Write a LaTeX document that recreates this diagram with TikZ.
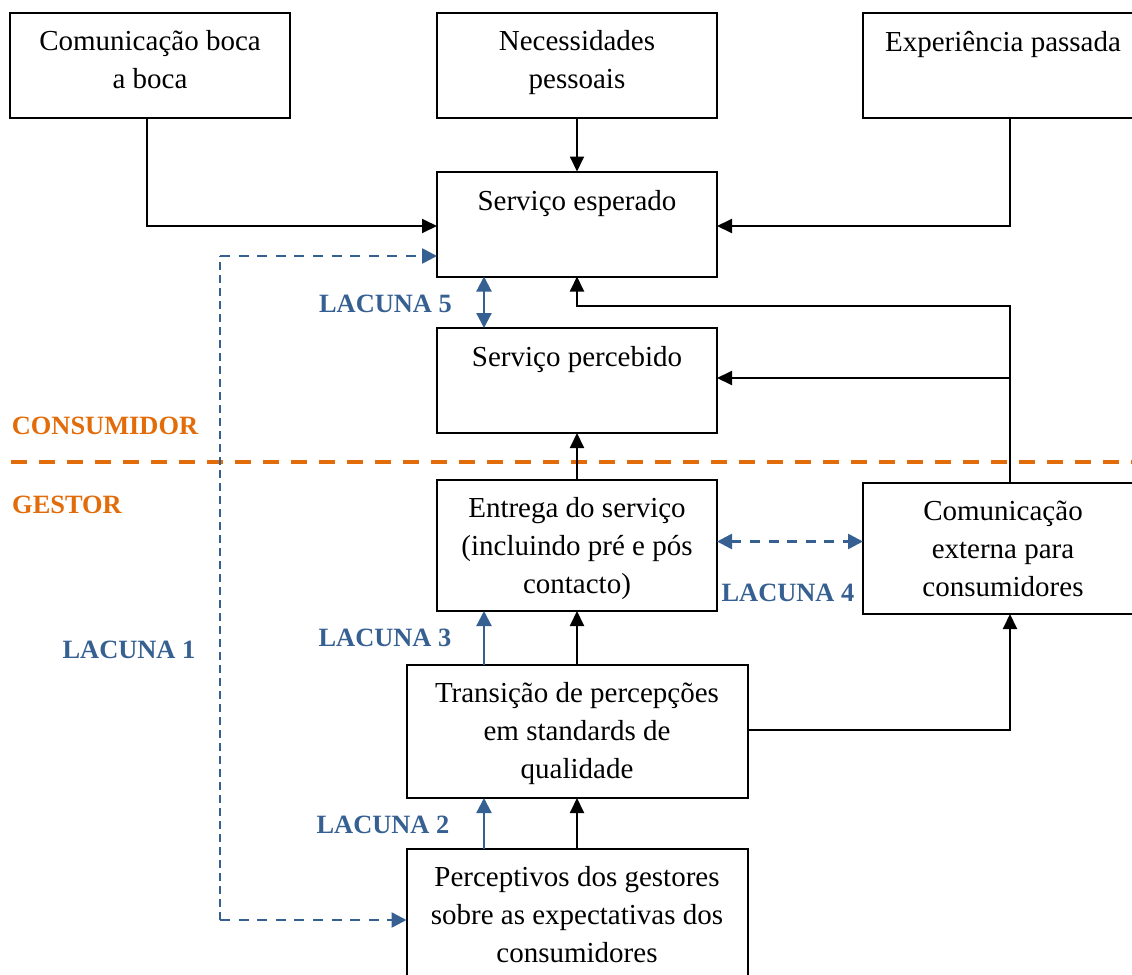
\documentclass[tikz,border=0pt]{standalone}
\usepackage{fontspec}
\setmainfont{Liberation Serif}
\usetikzlibrary{arrows.meta}
\definecolor{lblue}{RGB}{55,96,146}
\definecolor{lorange}{RGB}{227,108,10}
\begin{document}
\begin{tikzpicture}[x=0.5pt,y=-0.5pt,
  box/.style={draw, line width=1pt, minimum width=140pt, minimum height=52.5pt, inner sep=0pt, outer sep=0pt},
  txt/.style={anchor=north, align=center, inner sep=0pt, font=\fontsize{14.5}{19}\selectfont},
  lab/.style={anchor=base, inner sep=0pt, font=\fontsize{13.2}{15}\selectfont\bfseries},
  arr/.style={line width=1pt, -{Triangle[length=7.5pt,width=7pt]}},
  barr/.style={line width=1.1pt, lblue, -{Triangle[length=7.5pt,width=7.5pt]}},
  bdash/.style={barr, line width=1.3pt, dash pattern=on 5pt off 4.3pt},
  bvdash/.style={lblue, line width=1pt, dash pattern=on 4pt off 2.5pt}]
\useasboundingbox (0,0) rectangle (1132,975);

% boxes
\node[box] (A) at (150,65.5) {};
\node[box] (B) at (577,65.5) {};
\node[box] (C) at (1003,65.5) {};
\node[box] (SE) at (577,224) {};
\node[box] (SP) at (577,380.5) {};
\node[box, minimum height=65.5pt] (EN) at (577,545.5) {};
\node[box, minimum height=65.5pt] (CE) at (1003,548.5) {};
\node[box, minimum width=170.5pt, minimum height=66.5pt] (TR) at (577,731.5) {};
\node[box, minimum width=170.5pt, minimum height=66.5pt] (PG) at (577,915.5) {};

% box texts
\node[txt] (tA) at ([yshift=-5.2pt]A.north) {\strut Comunicação boca\\a boca};
\node[txt] (tB) at ([yshift=-5.2pt]B.north) {\strut Necessidades\\pessoais};
\node[txt] (tC) at ([yshift=-5.7pt]C.north) {\strut Experiência passada};
\node[txt] (tSE) at ([yshift=-6.2pt]SE.north) {\strut Serviço esperado};
\node[txt] (tSP) at ([yshift=-5.7pt]SP.north) {\strut Serviço percebido};
\node[txt] (tEN) at ([yshift=-5.2pt]EN.north) {\strut Entrega do serviço\\(incluindo pré e pós\\contacto)};
\node[txt] (tCE) at ([yshift=-5.2pt]CE.north) {\strut Comunicação\\externa para\\consumidores};
\node[txt] (tTR) at ([yshift=-5.2pt]TR.north) {\strut Transição de percepções\\em standards de\\qualidade};
\node[txt] (tPG) at ([yshift=-5.2pt]PG.north) {\strut Perceptivos dos gestores\\sobre as expectativas dos\\consumidores};

% labels
\node[lab, lblue] (L5) at (385.5,312) {LACUNA 5};
\node[lab, lblue] (L4) at (788,601) {LACUNA 4};
\node[lab, lblue] (L3) at (385,646) {LACUNA 3};
\node[lab, lblue] (L1) at (129,658) {LACUNA 1};
\node[lab, lblue] (L2) at (383,833) {LACUNA 2};
\node[lab, lorange] (LC) at (105,434) {CONSUMIDOR};
\node[lab, lorange] (LG) at (67,513) {GESTOR};

% helper coordinates
\coordinate (cx) at (1010,0);
\coordinate (ax) at (147,0);
\coordinate (bx) at (484,0);
\coordinate (loop) at (1010,306);
\coordinate (l1) at (220,920);
\coordinate (l1top) at (220,256);
\coordinate (ol) at (11,462);
\coordinate (or) at (1132,462);

% orange divider
\draw[lorange, line width=2pt, dash pattern=on 8pt off 6pt] (ol) -- (or);

% black connectors
\draw[arr] (A.south -| ax) |- ([yshift=-1pt]SE.west);
\draw[arr] (B.south) -- (SE.north);
\draw[arr] (C.south -| cx) |- ([yshift=-1pt]SE.east);
\draw[arr] (CE.north -| cx) -- (loop) -| (SE.south);
\draw[arr] (CE.north -| cx) |- ([yshift=1.25pt]SP.east);
\draw[arr] (EN.north) -- (SP.south);
\draw[arr] (TR.north) -- (EN.south);
\draw[arr] (PG.north) -- (TR.south);
\draw[arr] ([yshift=0.75pt]TR.east) -| (CE.south -| cx);

% blue connectors
\draw[barr, {Triangle[length=7.5pt,width=7.5pt]}-{Triangle[length=7.5pt,width=7.5pt]}] (SE.south -| bx) -- (SP.north -| bx);
\draw[barr] (TR.north -| bx) -- (EN.south -| bx);
\draw[barr] (PG.north -| bx) -- (TR.south -| bx);
\draw[bdash, {Triangle[length=7.5pt,width=7.5pt]}-{Triangle[length=7.5pt,width=7.5pt]}] ([yshift=2pt]EN.east) -- ([yshift=2pt]EN.east -| CE.west);
\draw[bvdash] (l1) -- (l1top);
\draw[bdash] (l1top) -- (l1top -| SE.west);
\draw[bdash] (l1) -- (l1 -| PG.west);
\end{tikzpicture}
\end{document}
